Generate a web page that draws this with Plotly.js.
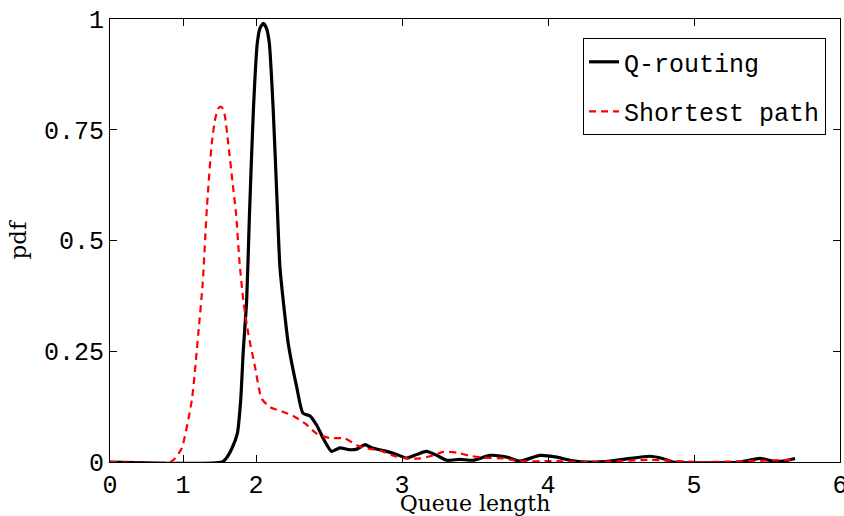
<!DOCTYPE html>
<html>
<head>
<meta charset="utf-8">
<script src="https://cdn.plot.ly/plotly-3.0.1.min.js"></script>
<style>html,body{margin:0;padding:0;background:#fff;}#chart{width:844px;height:516px;}</style>
</head>
<body>
<div id="chart"></div>
<script>
// x positions are in axis units (axis runs 0..5; tick labels 0..6 placed at 0,0.5,1,2,3,4,5)
const qX = [0, 0.767, 0.795, 0.834, 0.872, 0.895, 0.913, 0.936, 0.954, 0.982, 1.009, 1.027, 1.050, 1.072, 1.091, 1.118, 1.144, 1.164, 1.199, 1.221, 1.279, 1.322, 1.370, 1.416, 1.461, 1.518, 1.575, 1.632, 1.690, 1.747, 1.792, 1.895, 1.964, 2.032, 2.101, 2.169, 2.238, 2.306, 2.397, 2.488, 2.603, 2.717, 2.808, 2.945, 3.060, 3.151, 3.265, 3.425, 3.539, 3.699, 3.784, 3.858, 4.315, 4.452, 4.543, 4.610, 4.692];
const qY = [0, 0, 0.008, 0.030, 0.064, 0.139, 0.252, 0.365, 0.546, 0.794, 0.946, 0.979, 0.990, 0.979, 0.946, 0.794, 0.591, 0.440, 0.327, 0.267, 0.169, 0.110, 0.104, 0.083, 0.053, 0.024, 0.032, 0.028, 0.029, 0.039, 0.032, 0.024, 0.017, 0.009, 0.017, 0.024, 0.015, 0.004, 0.006, 0.004, 0.015, 0.011, 0.002, 0.015, 0.011, 0.004, 0, 0.002, 0.007, 0.013, 0.008, 0, 0, 0.008, 0.002, 0.002, 0.008];

const spX = [0, 0.411, 0.445, 0.491, 0.560, 0.605, 0.635, 0.664, 0.697, 0.719, 0.740, 0.758, 0.774, 0.788, 0.810, 0.840, 0.863, 0.886, 0.913, 0.947, 0.993, 1.039, 1.096, 1.187, 1.255, 1.336, 1.416, 1.507, 1.610, 1.690, 1.769, 1.849, 1.940, 2.032, 2.123, 2.214, 2.283, 2.375, 2.466, 2.557, 2.694, 2.808, 3.036, 3.265, 3.493, 3.699, 4.041, 4.692];
const spY = [0, 0, 0.008, 0.031, 0.139, 0.291, 0.404, 0.576, 0.719, 0.772, 0.797, 0.802, 0.797, 0.779, 0.719, 0.629, 0.562, 0.456, 0.365, 0.290, 0.215, 0.143, 0.124, 0.113, 0.104, 0.087, 0.064, 0.054, 0.053, 0.038, 0.030, 0.026, 0.014, 0.008, 0.008, 0.015, 0.023, 0.021, 0.014, 0.010, 0.008, 0.002, 0.002, 0, 0.002, 0.005, 0, 0.005];

const xTickVals = [0, 0.5, 1, 2, 3, 4, 5];
const xTickText = ['0', '1', '2', '3', '4', '5', '6'];
const yTickVals = [0, 0.25, 0.5, 0.75, 1];
const yTickText = ['0', '0.25', '0.5', '0.75', '1'];

const mono = 'Liberation Mono, Courier New, monospace';
const serif = 'DejaVu Serif, serif';

const traces = [
  {x: qX, y: qY, type: 'scatter', mode: 'lines', name: 'Q-routing', legendgroup: 'a',
   line: {color: '#000000', width: 3.2, shape: 'spline', smoothing: 0.6}},
  {x: spX, y: spY, type: 'scatter', mode: 'lines', name: 'Shortest path', legendgroup: 'b',
   line: {color: '#ff0000', width: 2.2, dash: '7px,5px', shape: 'spline', smoothing: 0.6}}
];

const layout = {
  width: 844, height: 516,
  margin: {l: 110, r: 4, t: 19, b: 54},
  paper_bgcolor: '#ffffff', plot_bgcolor: '#ffffff',
  showlegend: true,
  legend: {x: 0.648, y: 0.957, xanchor: 'left', yanchor: 'top',
    bgcolor: '#ffffff', bordercolor: '#000000', borderwidth: 1,
    font: {family: mono, size: 25, color: '#000000'},
    traceorder: 'grouped', tracegroupgap: 14},
  xaxis: {range: [0, 5], tickvals: xTickVals, ticktext: xTickText,
    ticks: 'inside', ticklen: 7, tickcolor: '#000', mirror: 'ticks',
    showline: true, linecolor: '#000', linewidth: 1, showgrid: false, zeroline: false,
    ticklabeloverflow: 'allow',
    tickfont: {family: mono, size: 25, color: '#000'},
    title: {text: 'Queue length', font: {family: serif, size: 22, color: '#000'}, standoff: 4}},
  yaxis: {range: [0, 1], tickvals: yTickVals, ticktext: yTickText,
    ticks: 'inside', ticklen: 7, tickcolor: '#000', mirror: 'ticks',
    showline: true, linecolor: '#000', linewidth: 1, showgrid: false, zeroline: false,
    tickfont: {family: mono, size: 25, color: '#000'},
    title: {text: 'pdf', font: {family: serif, size: 23, color: '#000'}, standoff: 10}}
};

Plotly.newPlot('chart', traces, layout, {displayModeBar: false, staticPlot: true});
</script>
</body>
</html>
